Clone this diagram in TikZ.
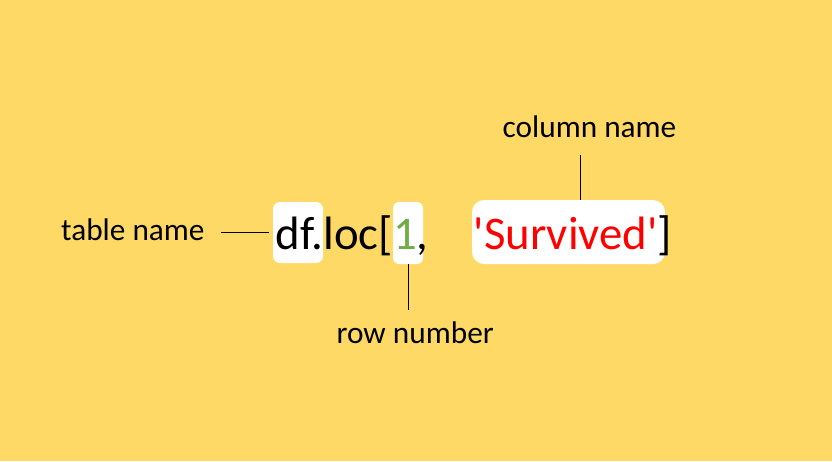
\documentclass[tikz,border=0pt]{standalone}
\usepackage{fontspec}
\setmainfont{Carlito}[Ligatures=TeXOff]
\definecolor{bg}{HTML}{FFD966}
\definecolor{numgreen}{HTML}{70AD47}
\definecolor{strred}{HTML}{FF0000}
\tikzset{
  wbox/.style={fill=white, draw=none, inner sep=0pt},
  lbl/.style={inner sep=0pt, anchor=base west, font=\fontsize{31.3}{36}\selectfont},
  big/.style={inner sep=0pt, anchor=base west, font=\fontsize{46.8}{54}\selectfont},
  conn/.style={draw=black, line width=0.9pt}
}
\begin{document}
\begin{tikzpicture}[x=1pt,y=-1pt]
\fill[bg] (0,0) rectangle (832,461);
\useasboundingbox (0,0) rectangle (832,461);
% white highlight boxes
\node[wbox, rounded corners=7pt, minimum width=50pt, minimum height=61pt] (dfbox) at (298,232.5) {};
\node[wbox, rounded corners=6pt, minimum width=30pt, minimum height=62pt] (onebox) at (408,233) {};
\node[wbox, rounded corners=12pt, minimum width=193pt, minimum height=64pt] (sbox) at (568.5,232) {};
% code text
\node[big] (code) at (275.7,249) {df.loc[\textcolor{numgreen}{1},};
\node[big] (col) at (473.5,249) {\textcolor{strred}{'Survived'}]};
% labels
\node[lbl] (tname) at (61,240) {table name};
\node[lbl] (cname) at (502.5,137) {column name};
\node[lbl] (rname) at (336.5,343) {row number};
% connectors
\coordinate (cl) at (580,155);
\coordinate (rl) at (408,310);
\draw[conn] ([xshift=16pt]tname.east |- dfbox.west) -- ([xshift=-4pt]dfbox.west);
\draw[conn] (cl) -- (cl |- sbox.north);
\draw[conn] (onebox.south) -- (rl);
\end{tikzpicture}
\end{document}
